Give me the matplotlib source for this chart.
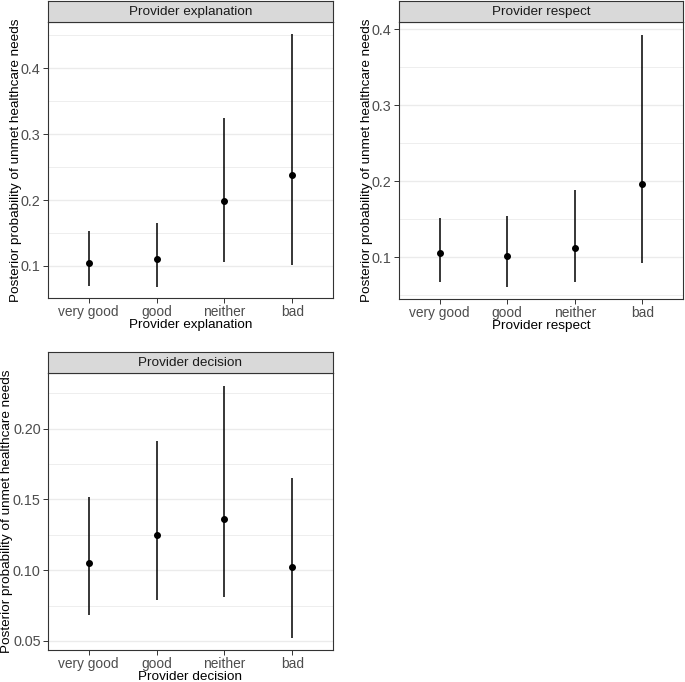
import numpy as np
import matplotlib
matplotlib.use("Agg")
from matplotlib import pyplot as plt

plt.rcParams['font.family'] = ['Liberation Sans', 'DejaVu Sans']

# 数据
categories = ['very good', 'good', 'neither', 'bad']

expl_mean = [0.105, 0.110, 0.199, 0.238]
expl_low = [0.069, 0.068, 0.106, 0.101]
expl_high = [0.153, 0.165, 0.325, 0.452]

resp_mean = [0.105, 0.102, 0.112, 0.196]
resp_low = [0.068, 0.061, 0.067, 0.092]
resp_high = [0.152, 0.154, 0.188, 0.393]

dec_mean = [0.105, 0.125, 0.136, 0.102]
dec_low = [0.068, 0.079, 0.081, 0.052]
dec_high = [0.152, 0.191, 0.230, 0.165]

W, H = 685, 682
fig = plt.figure(figsize=(W / 100, H / 100), dpi=100)

FS = 9.7        # 标题字号
FS_X = 9.9      # x 刻度字号
FS_Y = 10.4     # y 刻度字号
GRID = '#EBEBEB'
EDGE = '#333333'


def px_box(x0, y0, x1, y1):
    """像素坐标(左上原点) -> figure 坐标"""
    return [x0 / W, 1 - y1 / H, (x1 - x0) / W, (y1 - y0) / H]


def panel(box, strip_h, title, mean, low, high, ylim, major, minor, fmt,
          ylab_right):
    x0, y0, x1, y1 = box
    ax = fig.add_axes(px_box(x0, y0, x1, y1))
    st = fig.add_axes(px_box(x0, y0 - strip_h, x1, y0))

    # 分面标题条
    st.set_facecolor('#D9D9D9')
    st.set_xticks([])
    st.set_yticks([])
    for s in st.spines.values():
        s.set_color(EDGE)
        s.set_linewidth(0.8)
    st.text(0.5, 0.5, title, ha='center', va='center', fontsize=FS,
            color='#1A1A1A', transform=st.transAxes)

    x = np.arange(1, len(categories) + 1)
    for yv in minor:
        ax.axhline(yv, color=GRID, lw=0.6, zorder=0)
    for yv in major:
        ax.axhline(yv, color=GRID, lw=1.0, zorder=0)

    ax.vlines(x, low, high, color='black', lw=1.1, zorder=2)
    ax.plot(x, mean, 'o', color='black', ms=4.0, zorder=3)

    ax.set_xlim(0.4, 4.6)
    ax.set_ylim(*ylim)
    ax.set_xticks(x)
    ax.set_xticklabels(categories)
    ax.set_yticks(major)
    ax.set_yticklabels([fmt.format(v) for v in major])
    ax.tick_params(axis='both', labelcolor='#4D4D4D',
                   color=EDGE, length=3.8, width=0.7, pad=1.5)
    ax.tick_params(axis='x', labelsize=FS_X, pad=1.0)
    ax.tick_params(axis='y', labelsize=FS_Y)
    for s in ax.spines.values():
        s.set_color(EDGE)
        s.set_linewidth(0.8)
    ax.set_xlabel(title, fontsize=FS, color='black', labelpad=0)
    ax.set_ylabel('Posterior probability of unmet healthcare needs',
                  fontsize=FS, color='black')
    # y 轴标题右缘位置(像素)
    ax.yaxis.set_label_coords((ylab_right - x0) / (x1 - x0), 0.5)
    return ax


panel((48, 22, 333, 298), 21, 'Provider explanation',
      expl_mean, expl_low, expl_high, (0.0514, 0.470),
      [0.1, 0.2, 0.3, 0.4], [0.15, 0.25, 0.35, 0.45], '{:.1f}', 22)

panel((399, 22, 683, 299), 21, 'Provider respect',
      resp_mean, resp_low, resp_high, (0.0451, 0.4096),
      [0.1, 0.2, 0.3, 0.4], [0.05, 0.15, 0.25, 0.35], '{:.1f}', 373)

panel((48, 373, 333, 650), 21, 'Provider decision',
      dec_mean, dec_low, dec_high, (0.0436, 0.2394),
      [0.05, 0.10, 0.15, 0.20], [0.075, 0.125, 0.175, 0.225], '{:.2f}', 13.5)

fig.savefig('out.png', dpi=100)
